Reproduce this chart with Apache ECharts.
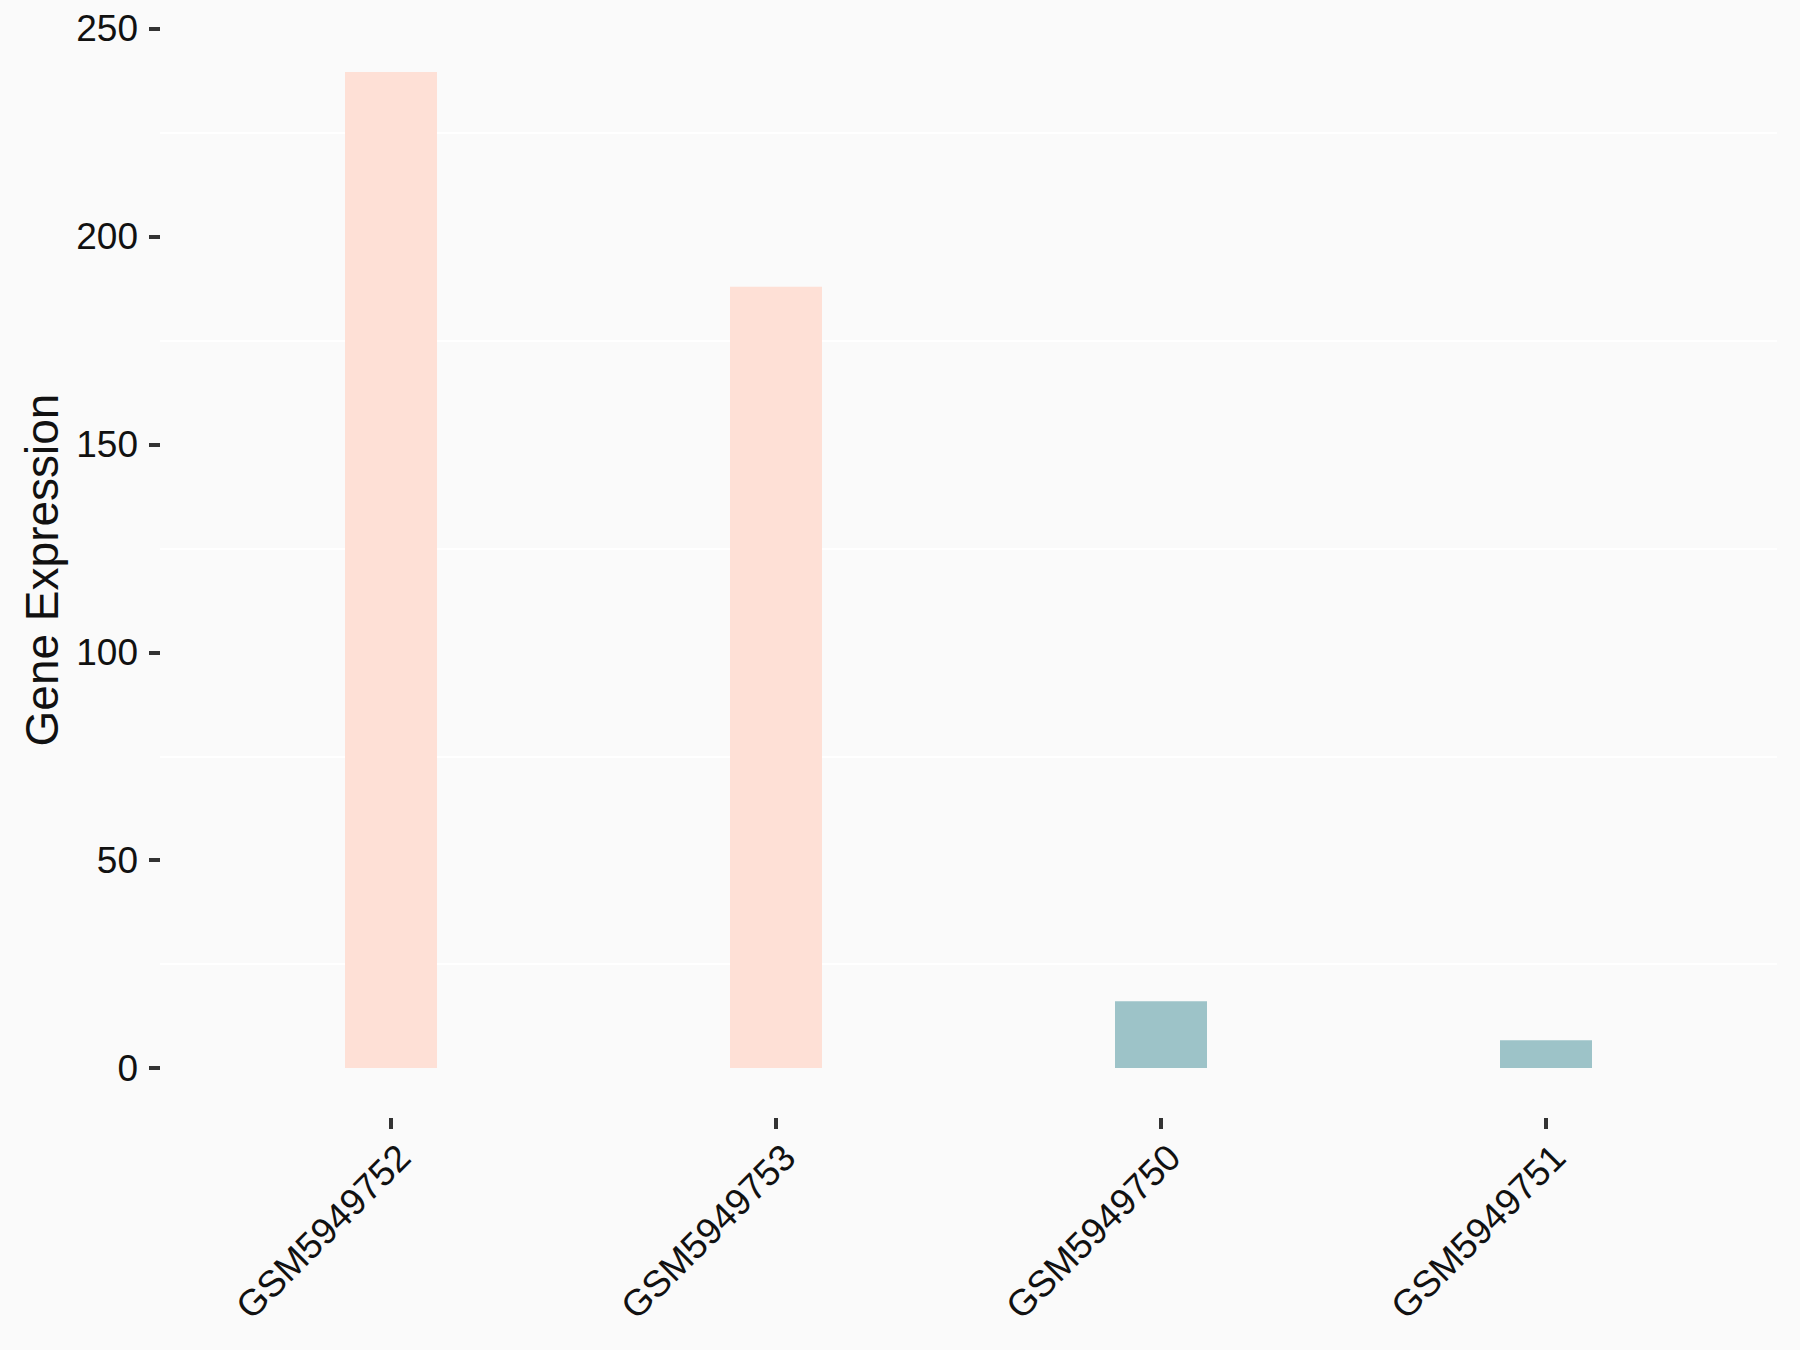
<!DOCTYPE html>
<html>
<head>
<meta charset="utf-8">
<script src="https://cdn.jsdelivr.net/npm/echarts@6/dist/echarts.min.js"></script>
<style>
  html, body { margin: 0; padding: 0; background: #FAFAFA; }
  #main { width: 1800px; height: 1350px; }
</style>
</head>
<body>
<div id="main"></div>
<script>
// samples and expression values
const samples = ['GSM5949752', 'GSM5949753', 'GSM5949750', 'GSM5949751'];
const expression = [239.6, 187.9, 16.1, 6.7];
const groups = ['high', 'high', 'low', 'low'];
const yTicks = [0, 50, 100, 150, 200, 250];
const yMinorLines = [25, 75, 125, 175, 225];

const groupColors = { high: '#FEE0D6', low: '#9DC3C8' };
const positions = samples.map((s, i) => i + 1);

let chart = echarts.init(document.getElementById('main'), null, { renderer: 'svg' });

let option = {
  backgroundColor: '#FAFAFA',
  animation: false,
  grid: { left: 160, right: 23, top: 22, bottom: 232 },
  xAxis: {
    type: 'value',
    min: 0.4,
    max: 4.6,
    axisLine: { show: false, onZero: false },
    splitLine: { show: false },
    axisTick: {
      show: true,
      customValues: positions,
      length: 11,
      lineStyle: { color: '#333333', width: 4 }
    },
    axisLabel: {
      customValues: positions,
      rotate: 45,
      margin: 20,
      verticalAlign: 'top',
      fontSize: 37,
      fontFamily: 'Liberation Sans',
      color: '#111111',
      formatter: v => samples[Math.round(v) - 1]
    }
  },
  yAxis: {
    type: 'value',
    min: -12,
    max: 251.6,
    name: 'Gene Expression',
    nameLocation: 'middle',
    nameRotate: 90,
    nameGap: 95,
    nameTextStyle: { fontSize: 46, fontFamily: 'Liberation Sans', color: '#111111' },
    axisLine: { show: false },
    splitLine: { show: false },
    axisTick: {
      show: true,
      customValues: yTicks,
      length: 11,
      lineStyle: { color: '#333333', width: 4 }
    },
    axisLabel: {
      customValues: yTicks,
      margin: 22,
      fontSize: 37,
      fontFamily: 'Liberation Sans',
      color: '#111111'
    }
  },
  series: [
    {
      type: 'bar',
      barWidth: 92,
      data: expression.map((v, i) => ({
        value: [positions[i], v],
        itemStyle: { color: groupColors[groups[i]] }
      })),
      markLine: {
        silent: true,
        symbol: 'none',
        label: { show: false },
        z: 1,
        lineStyle: { color: '#FFFFFF', width: 2, type: 'solid' },
        data: yMinorLines.map(v => ({ yAxis: v }))
      },
      z: 2
    }
  ]
};

chart.setOption(option);
</script>
</body>
</html>
